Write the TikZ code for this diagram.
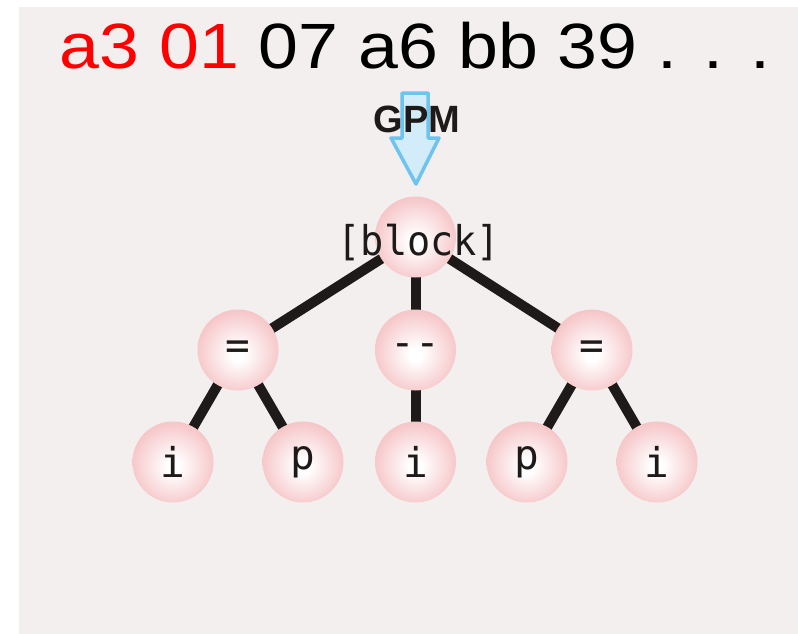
\documentclass[tikz,border=0pt]{standalone}
\usepackage{fontspec}
\setmainfont{Liberation Sans}
\newfontfamily\hexfont{Liberation Sans}
\newfontfamily\treefont{DejaVu Sans Mono}
\pgfdeclarelayer{bg}
\pgfsetlayers{bg,main}

\definecolor{paper}{HTML}{F3EFEE}
\definecolor{ballmid}{HTML}{F6C6C8}
\definecolor{ballout}{HTML}{F0ABAE}
\definecolor{ink}{HTML}{1E1A19}
\definecolor{arrowline}{HTML}{6EC3EF}
\definecolor{arrowfill}{HTML}{D3ECFA}
\definecolor{hexred}{HTML}{FF0000}

\pgfdeclareradialshading{ball}{\pgfpoint{0bp}{-3bp}}{%
  color(0bp)=(white); color(4bp)=(white); color(26bp)=(ballmid); color(50bp)=(ballout)}

\tikzset{
  treefontsize/.style={font=\treefont\fontsize{41}{41}\selectfont},
  treenode/.style={circle, minimum size=81pt, inner sep=0pt, shading=ball,
    text=ink, treefontsize},
  treelabel/.style={inner sep=0pt, text=ink, treefontsize},
  treeedge/.style={draw=ink, line width=10pt},
  gpmarrow/.style={draw=arrowline, fill=arrowfill, line width=3.5pt, line join=round},
}

\begin{document}
\begin{tikzpicture}[x=1pt, y=-1pt]
  \useasboundingbox (0,0) rectangle (798,634);

  % byte stream header
  \node[anchor=base west, inner sep=0pt, font=\hexfont\fontsize{64}{64}\selectfont] (bytes) at (59.5,69)
    {\scalebox{1.12}[1]{\textcolor{hexred}{a3 01} 07 a6 bb 39 . . .}};

  % parser arrow
  \draw[gpmarrow] (402,93) -- (428,93) -- (428,138) -- (439,138) -- (416,184)
    -- (391,138) -- (402,138) -- cycle;
  \node[anchor=base, inner sep=0pt, text=ink, font=\bfseries\fontsize{38}{38}\selectfont] (gpm) at (417,132) {GPM};

  % syntax tree
  \node[treenode] (root) at (415.5,237) {};
  \node[treelabel, anchor=base] (rootlabel) at (419,255)
    {\scalebox{0.94}[1]{[block]}};
  \node[treenode] (asg1) at (238,350) {=};
  \node[treenode] (dec)  at (415.5,350) {--};
  \node[treenode] (asg2) at (592,350) {=};
  \node[treenode] (i1) at (173,462) {i};
  \node[treenode] (p1) at (303,462) {p};
  \node[treenode] (i2) at (415.5,462) {i};
  \node[treenode] (p2) at (527,462) {p};
  \node[treenode] (i3) at (657,462) {i};

  \begin{pgfonlayer}{bg}
    \fill[paper] (19,7) rectangle (798,634);
    \draw[treeedge] (root.center) -- (asg1.center);
    \draw[treeedge] (root.center) -- (dec.center);
    \draw[treeedge] (root.center) -- (asg2.center);
    \draw[treeedge] (asg1.center) -- (i1.center);
    \draw[treeedge] (asg1.center) -- (p1.center);
    \draw[treeedge] (dec.center) -- (i2.center);
    \draw[treeedge] (asg2.center) -- (p2.center);
    \draw[treeedge] (asg2.center) -- (i3.center);
  \end{pgfonlayer}
\end{tikzpicture}
\end{document}
